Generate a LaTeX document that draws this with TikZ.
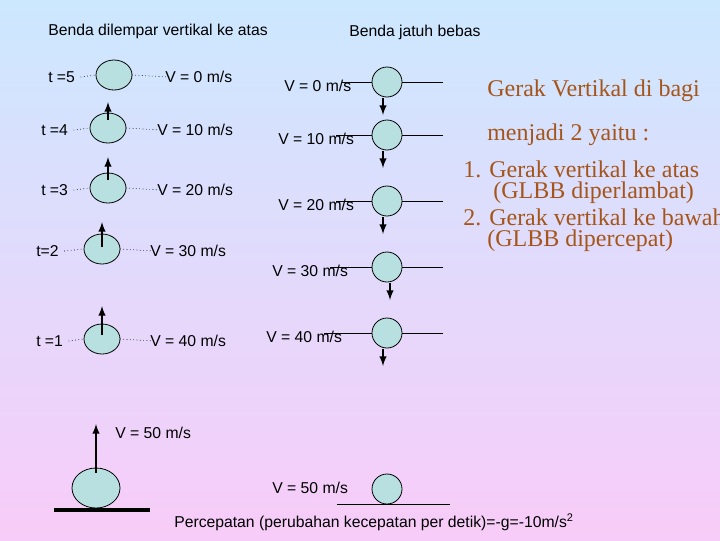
\documentclass[tikz,border=0pt]{standalone}
\usepackage{fontspec}
\setmainfont{Liberation Sans}
\newfontfamily\serifr{Liberation Serif}
\definecolor{topc}{RGB}{204,232,255}
\definecolor{botc}{RGB}{248,204,248}
\definecolor{ballc}{RGB}{184,224,224}
\definecolor{brn}{RGB}{165,85,25}
\begin{document}
\begin{tikzpicture}[x=0.75pt,y=-0.75pt,
  ball/.style={draw=black,fill=ballc,line width=0.6pt},
  lab/.style={inner sep=0pt,anchor=west,font=\fontsize{11.8}{13}\selectfont},
  dot/.style={dotted,line width=0.5pt},
  up/.style={-latex,line width=1.5pt},
  rtxt/.style={inner sep=0pt,anchor=west,text=brn,font=\serifr\fontsize{18}{20}\selectfont}]
\useasboundingbox (0,0) rectangle (720,540);
\shade[top color=topc,bottom color=botc] (0,0) rectangle (720,540);
\begin{scope}
\clip (0,0) rectangle (720,540);
\node[lab] (h1) at (48,31) {Benda dilempar vertikal ke atas};
\node[lab] (h2) at (349,32) {Benda jatuh bebas};
% left column
\foreach \n/\x/\y/\tl/\tx/\vl/\vx/\ay in {5/114/75/{t =5}/48/{V = 0 m/s}/165/0,
  4/108/128/{t =4}/41/{V = 10 m/s}/157/102,
  3/108/188/{t =3}/41/{V = 20 m/s}/157/157,
  2/102/249/{t=2}/36/{V = 30 m/s}/150/222,
  1/102/339/{t =1}/36/{V = 40 m/s}/150/306}{
  \node[lab] (t\n) at (\tx,\y+2) {\tl};
  \node[lab] (v\n) at (\vx,\y+2) {\vl};
  \draw[ball] (\x,\y) ellipse (18 and 15);
  \coordinate (bl\n) at (\x-18,\y);
  \coordinate (br\n) at (\x+18,\y);
  \draw[dot] ([xshift=4pt]t\n.east) -- (bl\n);
  \draw[dot] (br\n) -- ([xshift=3pt]v\n.west);
}
\foreach \n/\x/\y/\ay in {4/108/120/102,3/108/180/157,2/102/247/222,1/102/335/306}{
  \coordinate (a\n) at (\x,\y); \coordinate (b\n) at (\x,\ay);
  \draw[up] (a\n) -- (b\n);}
% big ball
\draw[ball] (96,488) ellipse (24 and 20);
\draw[line width=3pt] (54,510) -- (150,510);
\coordinate (ba) at (96,473); \coordinate (bb) at (96,424);
\draw[up] (ba) -- (bb);
\node[lab] (v6) at (115,433) {V = 50 m/s};
% right column
\foreach \n/\y/\vl/\vx/\ax in {1/82/{V = 0 m/s}/284/383,2/135/{V = 10 m/s}/278/383,
  3/201/{V = 20 m/s}/278/383,4/267/{V = 30 m/s}/272/390,5/333/{V = 40 m/s}/266/383}{
  \node[lab] (w\n) at (\vx,\y+4) {\vl};
  \coordinate (ls\n) at (\vx+58,\y);
  \coordinate (le\n) at (443,\y);
  \draw[line width=0.6pt] (ls\n) -- (le\n);
  \draw[ball] (387,\y) circle (15);
  \coordinate (da\n) at (\ax,\y+16); \coordinate (db\n) at (\ax,\y+33);
  \draw[up] (da\n) -- (db\n);
}
\draw[ball] (387,489) circle (15);
\draw[line width=0.6pt] (337,504) -- (450,504);
\node[lab] (w6) at (272,488) {V = 50 m/s};
\node[lab] (pc) at (174,522) {Percepatan (perubahan kecepatan per detik)=-g=-10m/s\textsuperscript{2}};
% right text
\node[rtxt] (r1) at (487,91) {Gerak Vertikal di bagi};
\node[rtxt] (r2) at (487,135) {menjadi 2 yaitu :};
\node[rtxt] (r3) at (463,169) {1. Gerak vertikal ke atas};
\node[rtxt] (r4) at (493,193) {(GLBB diperlambat)};
\node[rtxt] (r5) at (463,217) {2. Gerak vertikal ke bawah};
\node[rtxt] (r6) at (487,241) {(GLBB dipercepat)};
\end{scope}
\end{tikzpicture}
\end{document}
